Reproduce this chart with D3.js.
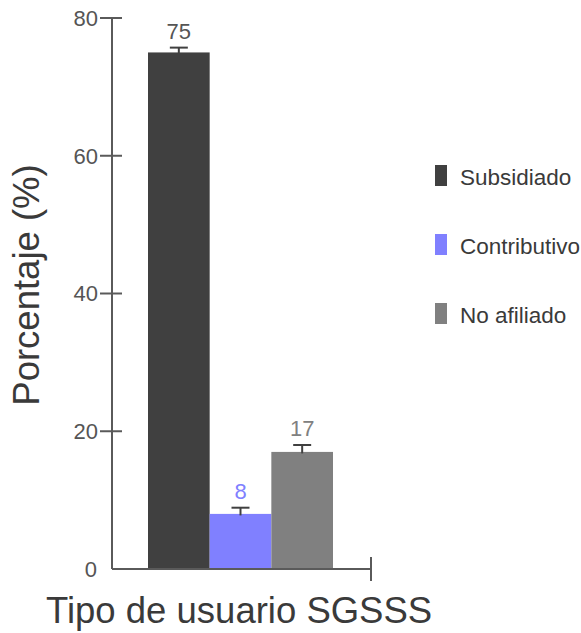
<!DOCTYPE html>
<html>
<head>
<meta charset="utf-8">
<script src="https://cdn.jsdelivr.net/npm/d3@7"></script>
<style>
  html, body { margin: 0; padding: 0; background: #fff; }
  svg { display: block; font-family: "Liberation Sans", Arial, sans-serif; }
</style>
</head>
<body>
<svg id="chart" width="581" height="633"></svg>
<script>
// Survey shares by health-system affiliation
const categories = ["Subsidiado", "Contributivo", "No afiliado"];
const values = [75, 8, 17];
const errors = [0.7, 0.9, 1.0];
const colors = ["#404040", "#8080ff", "#808080"];
const yTicks = [0, 20, 40, 60, 80];
const yTitle = "Porcentaje (%)";
const xTitle = "Tipo de usuario SGSSS";

const svg = d3.select("#chart");

const axisX0 = 112, axisX1 = 371;
const y = d3.scaleLinear().domain([0, 80]).range([569, 18]);
const x = d3.scaleBand().domain(categories).range([148, 333]).padding(0);

const axisColor = "#5a5a5a";

// bars
svg.append("g").selectAll("rect")
  .data(categories)
  .join("rect")
  .attr("x", d => x(d))
  .attr("width", x.bandwidth())
  .attr("y", (d, i) => y(values[i]))
  .attr("height", (d, i) => y(0) - y(values[i]))
  .attr("fill", (d, i) => colors[i]);

// error bars (upper half)
const eb = svg.append("g").attr("stroke", "#404040").attr("stroke-width", 2);
categories.forEach((c, i) => {
  const cx = x(c) + x.bandwidth() / 2;
  eb.append("line")
    .attr("x1", cx).attr("x2", cx)
    .attr("y1", y(values[i]) + 1.5).attr("y2", y(values[i] + errors[i]));
  eb.append("line")
    .attr("x1", cx - 9).attr("x2", cx + 9)
    .attr("y1", y(values[i] + errors[i])).attr("y2", y(values[i] + errors[i]));
});

// value labels
svg.append("g").selectAll("text")
  .data(categories)
  .join("text")
  .attr("x", d => x(d) + x.bandwidth() / 2)
  .attr("y", (d, i) => y(values[i] + errors[i]) - 9)
  .attr("text-anchor", "middle")
  .attr("font-size", 22)
  .attr("fill", (d, i) => i === 0 ? "#555555" : colors[i])
  .text((d, i) => values[i]);

// axes
const ax = svg.append("g").attr("stroke", axisColor).attr("stroke-width", 2).attr("fill", "none");
ax.append("line").attr("x1", axisX0).attr("x2", axisX0).attr("y1", y(80)).attr("y2", y(0));
ax.append("line").attr("x1", axisX0).attr("x2", axisX1).attr("y1", y(0)).attr("y2", y(0));
ax.append("line").attr("x1", axisX1).attr("x2", axisX1).attr("y1", y(0) - 12).attr("y2", y(0) + 12);
ax.selectAll(".tick")
  .data(yTicks.filter(t => t !== 0))
  .join("line")
  .attr("x1", axisX0 - 12).attr("x2", axisX0 + 10)
  .attr("y1", d => y(d)).attr("y2", d => y(d));

svg.append("g").selectAll("text")
  .data(yTicks)
  .join("text")
  .attr("x", d => d === 0 ? 97 : axisX0 - 14)
  .attr("y", d => y(d))
  .attr("dy", "0.36em")
  .attr("text-anchor", "end")
  .attr("font-size", 22)
  .attr("fill", "#555555")
  .text(d => d);

// axis titles
svg.append("text")
  .attr("transform", "translate(39,285) rotate(-90)")
  .attr("text-anchor", "middle")
  .attr("font-size", 36.5)
  .attr("fill", "#3a3a3a")
  .text(yTitle);

svg.append("text")
  .attr("x", 46)
  .attr("y", 623)
  .attr("font-size", 36.5)
  .attr("fill", "#3a3a3a")
  .text(xTitle);

// legend
const leg = svg.append("g");
categories.forEach((c, i) => {
  const top = 165 + i * 69;
  leg.append("rect")
    .attr("x", 435).attr("y", top)
    .attr("width", 12).attr("height", 21)
    .attr("fill", colors[i]);
  leg.append("text")
    .attr("x", 460).attr("y", top + 20)
    .attr("font-size", 22.5)
    .attr("fill", "#3a3a3a")
    .text(c);
});
</script>
</body>
</html>
